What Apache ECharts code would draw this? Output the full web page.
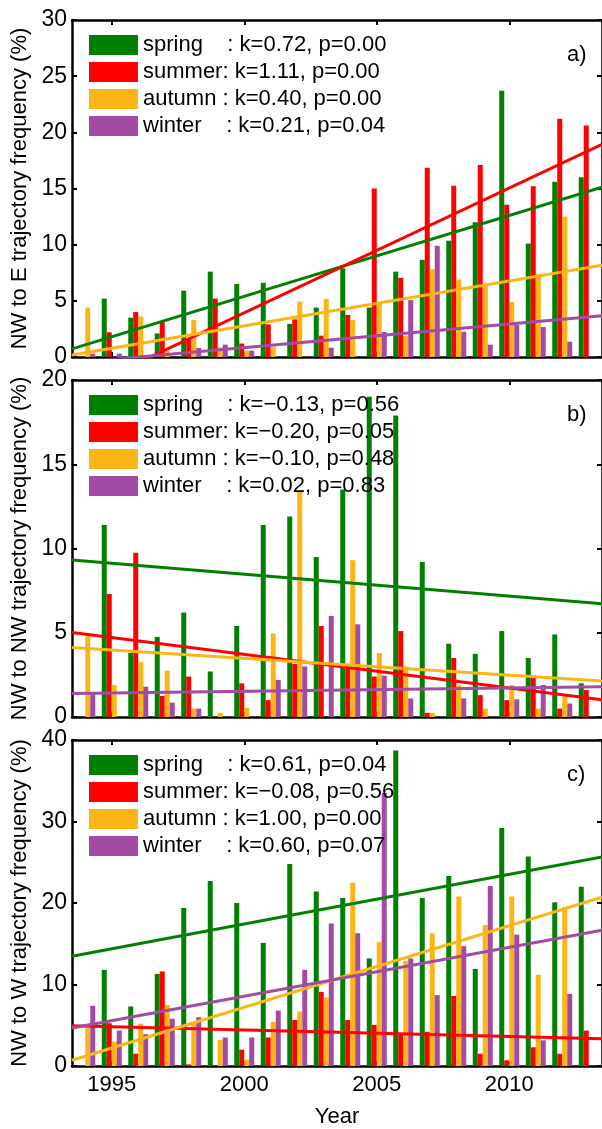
<!DOCTYPE html>
<html><head><meta charset="utf-8">
<script src="https://cdn.jsdelivr.net/npm/echarts@6/dist/echarts.min.js"></script>
<style>html,body{margin:0;padding:0;background:#fff}#c{width:602px;height:1129px}</style>
</head><body><div id="c"></div>
<script>
// ---- data ----
const years = ['1994','1995','1996','1997','1998','1999','2000','2001','2002','2003','2004','2005','2006','2007','2008','2009','2010','2011','2012','2013'];
const xTickLabels = ['1995','2000','2005','2010'];
const seasonColors = ['#008000','#ff0000','#fdb515','#a24ba4'];
const panelLabels = ['a)','b)','c)'];
const yAxisNames = ['NW to E trajectory frequency (%)','NW to NW trajectory frequency (%)','NW to W trajectory frequency (%)'];
const yMaxes = [30,20,40];
const yIntervals = [5,5,10];

// panel a: NW to E
const springA = [0,5.2,3.5,2.1,5.9,7.6,6.5,6.6,2.95,4.4,7.9,4.4,7.6,8.65,10.35,12.0,23.7,10.1,15.6,16.0];
const summerA = [0,2.2,4.0,3.1,1.6,5.2,1.2,2.9,3.35,1.9,3.75,15.0,7.05,16.85,15.25,17.1,13.55,15.2,21.2,20.6];
const autumnA = [4.4,0,3.6,0.6,3.3,0.85,0.56,0.92,4.93,5.17,3.3,4.78,1.9,7.8,6.9,6.4,4.9,7.4,12.5,0];
const winterA = [0.3,0.3,0,0,0.8,1.1,0.56,0,0,0.83,0,2.23,5.07,9.9,2.25,1.1,2.85,2.67,1.36,0];
const legendA = ['spring    : k=0.72, p=0.00','summer: k=1.11, p=0.00','autumn : k=0.40, p=0.00','winter    : k=0.21, p=0.04'];
const trendSlopeA = [0.72,1.11,0.40,0.21];
const trendStartA = [0.72,-3.28,0.18,-0.53];   // fitted value at 1993.5

// panel b: NW to NW
const springB = [0,11.4,3.8,4.75,6.2,2.7,5.4,11.4,11.9,9.5,13.5,19.0,17.9,9.2,4.35,3.75,5.1,3.5,4.9,2.0];
const summerB = [0,7.3,9.75,1.25,2.4,0,2.0,1.0,3.15,5.4,3.0,2.4,5.1,0.25,3.5,1.3,1.0,2.45,0.5,1.6];
const autumnB = [4.8,1.9,3.25,2.75,0.5,0.25,0.55,4.95,13.4,0,9.3,3.8,3.0,0.25,1.9,0.5,1.9,0.5,1.2,0];
const winterB = [1.4,0,1.8,0.85,0.5,0,0,2.2,3.0,6.0,5.5,2.45,1.1,0,1.1,0,1.05,1.9,0.8,0];
const legendB = ['spring    : k=\u22120.13, p=0.56','summer: k=\u22120.20, p=0.05','autumn : k=\u22120.10, p=0.48','winter    : k=0.02, p=0.83'];
const trendSlopeB = [-0.13,-0.20,-0.10,0.02];
const trendStartB = [9.32,5.02,4.13,1.4];

// panel c: NW to W
const springC = [0,11.8,7.3,11.3,19.4,22.7,20.0,15.1,24.8,21.4,20.6,13.2,38.7,20.6,23.3,11.9,29.2,25.7,20.1,22.0];
const summerC = [0,5.25,1.5,11.6,0.2,0,2.0,3.5,5.65,9.1,5.65,5.05,3.9,4.2,8.6,1.5,0.7,2.3,1.5,4.35];
const autumnC = [4.7,3.0,5.2,7.5,5.4,3.2,0.8,5.4,6.7,8.4,22.5,15.2,12.9,16.3,20.8,17.3,20.8,11.2,19.5,0];
const winterC = [7.4,4.35,3.9,5.8,6.0,3.5,3.5,6.8,11.8,17.5,16.3,33.5,13.2,8.7,14.7,22.1,16.1,3.15,8.85,0];
const legendC = ['spring    : k=0.61, p=0.04','summer: k=\u22120.08, p=0.56','autumn : k=1.00, p=0.00','winter    : k=0.60, p=0.07'];
const trendSlopeC = [0.61,-0.08,1.00,0.60];
const trendStartC = [13.46,4.93,0.71,4.66];

const xStart = 1993.5, xEnd = 2013.5;

// ---- build ----
const panels = [
  {vals:[springA,summerA,autumnA,winterA], legend:legendA, k:trendSlopeA, b:trendStartA},
  {vals:[springB,summerB,autumnB,winterB], legend:legendB, k:trendSlopeB, b:trendStartB},
  {vals:[springC,summerC,autumnC,winterC], legend:legendC, k:trendSlopeC, b:trendStartC}
];
const FONT = "'Liberation Sans', Arial, sans-serif";
const FS = 22;
const gridTops = [20,380,740];
const gridHeights = [337,337,338];
const isTick = (i, v) => xTickLabels.indexOf(String(v)) >= 0;

const option = {
  backgroundColor:'#fff',
  animation:false,
  textStyle:{fontFamily:FONT},
  grid:[], xAxis:[], yAxis:[], series:[], legend:[], graphic:[]
};

panels.forEach((p, pi) => {
  option.grid.push({left:72, width:534, top:gridTops[pi], height:gridHeights[pi], containLabel:false});
  const last = pi === 2;
  option.xAxis.push({
    type:'category', gridIndex:pi, data:years, position:'bottom',
    boundaryGap:true,
    axisLine:{show:true, onZero:false, lineStyle:{color:'#000', width:2.5}},
    axisTick:{show:true, inside:true, length:5, alignWithLabel:true, interval:isTick, lineStyle:{color:'#000', width:2}},
    axisLabel:{show:last, interval:isTick, color:'#000', fontSize:FS, fontFamily:FONT, margin:8},
    name: last ? 'Year' : '', nameLocation:'middle', nameGap:40,
    nameTextStyle:{color:'#000', fontSize:FS, fontFamily:FONT},
    splitLine:{show:false}
  });
  option.xAxis.push({
    type:'category', gridIndex:pi, data:years, position:'top',
    boundaryGap:true,
    axisLine:{show:true, onZero:false, lineStyle:{color:'#000', width:2.5}},
    axisTick:{show:true, inside:true, length:5, alignWithLabel:true, interval:isTick, lineStyle:{color:'#000', width:2}},
    axisLabel:{show:false}, splitLine:{show:false}
  });
  option.xAxis.push({type:'value', gridIndex:pi, min:xStart, max:xEnd, show:false});
  option.yAxis.push({
    type:'value', gridIndex:pi, min:0, max:yMaxes[pi], interval:yIntervals[pi], position:'left',
    axisLine:{show:true, onZero:false, lineStyle:{color:'#000', width:2.5}},
    axisTick:{show:true, inside:true, length:5, lineStyle:{color:'#000', width:2}},
    axisLabel:{color:'#000', fontSize:23, fontFamily:FONT, margin:5},
    splitLine:{show:false},
    name:yAxisNames[pi], nameLocation:'middle', nameGap:39, nameRotate:90,
    nameTextStyle:{color:'#000', fontSize:FS, fontFamily:FONT}
  });
  option.yAxis.push({
    type:'value', gridIndex:pi, min:0, max:yMaxes[pi], interval:yIntervals[pi], position:'right',
    axisLine:{show:true, onZero:false, lineStyle:{color:'#000', width:2.5}},
    axisTick:{show:true, inside:true, length:5, lineStyle:{color:'#000', width:2}},
    axisLabel:{show:false}, splitLine:{show:false}
  });
  const xb = pi*3, xv = pi*3+2, yl = pi*2;
  p.vals.forEach((arr, si) => {
    option.series.push({
      type:'bar', name:p.legend[si], xAxisIndex:xb, yAxisIndex:yl,
      data:arr, barWidth:5, barGap:'0%',
      itemStyle:{color:seasonColors[si]}, z:2
    });
  });
  p.vals.forEach((arr, si) => {
    const b = p.b[si], k = p.k[si];
    option.series.push({
      type:'line', name:'trend'+pi+si, xAxisIndex:xv, yAxisIndex:yl,
      data:[[xStart, b],[xEnd, b + k*(xEnd-xStart)]],
      showSymbol:false, symbol:'none', clip:true, silent:true,
      lineStyle:{color:seasonColors[si], width:3}, z:5
    });
  });
  option.legend.push({
    data:p.legend.map(n => ({name:n, icon:'rect'})),
    orient:'vertical', left:89, top:gridTops[pi]+14, padding:0,
    itemWidth:49, itemHeight:20, itemGap:5, selectedMode:false,
    textStyle:{color:'#000', fontSize:FS, fontFamily:FONT}
  });
  option.graphic.push({
    type:'text', left:567, top:gridTops[pi]+24,
    style:{text:panelLabels[pi], fill:'#000', font:FS+'px '+FONT}
  });
});

const chart = echarts.init(document.getElementById('c'), null, {renderer:'canvas'});
chart.setOption(option);
</script></body></html>
